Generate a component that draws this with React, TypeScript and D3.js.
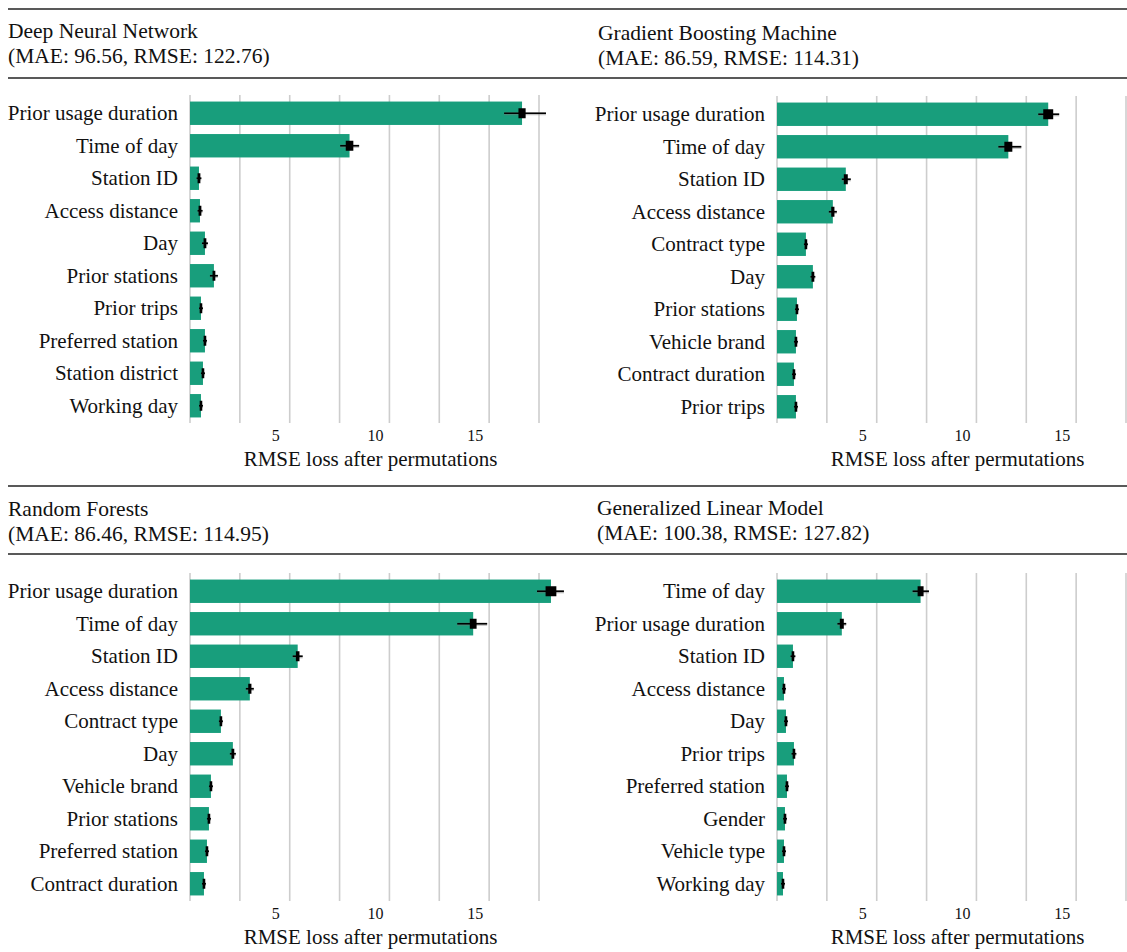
import React from "react";
import * as d3 from "d3";

// Permutation feature importance for four models (RMSE increase after permuting each feature)

const dnnFeatures = ["Prior usage duration", "Time of day", "Station ID", "Access distance", "Day", "Prior stations", "Prior trips", "Preferred station", "Station district", "Working day"];
const dnnValues = [16.65, 8.0, 0.45, 0.5, 0.75, 1.2, 0.55, 0.75, 0.65, 0.55];
const dnnErrLow = [0.9, 0.47, 0.12, 0.12, 0.15, 0.2, 0.1, 0.1, 0.1, 0.1];
const dnnErrHigh = [1.2, 0.48, 0.12, 0.13, 0.15, 0.2, 0.1, 0.1, 0.1, 0.1];
// half-width of the interquartile box
const dnnBox = [0.18, 0.19, 0.07, 0.07, 0.07, 0.07, 0.06, 0.06, 0.06, 0.06];

const gbmFeatures = ["Prior usage duration", "Time of day", "Station ID", "Access distance", "Contract type", "Day", "Prior stations", "Vehicle brand", "Contract duration", "Prior trips"];
const gbmValues = [13.6, 11.6, 3.45, 2.8, 1.45, 1.8, 1.0, 0.95, 0.85, 0.95];
const gbmErrLow = [0.5, 0.5, 0.2, 0.2, 0.1, 0.12, 0.1, 0.1, 0.1, 0.1];
const gbmErrHigh = [0.55, 0.65, 0.25, 0.2, 0.1, 0.12, 0.1, 0.1, 0.1, 0.1];
const gbmBox = [0.25, 0.2, 0.1, 0.08, 0.06, 0.07, 0.06, 0.06, 0.06, 0.06];

const rfFeatures = ["Prior usage duration", "Time of day", "Station ID", "Access distance", "Contract type", "Day", "Vehicle brand", "Prior stations", "Preferred station", "Contract duration"];
const rfValues = [18.1, 14.2, 5.4, 3.0, 1.55, 2.15, 1.05, 0.95, 0.85, 0.7];
const rfErrLow = [0.7, 0.8, 0.25, 0.2, 0.1, 0.15, 0.1, 0.1, 0.1, 0.1];
const rfErrHigh = [0.65, 0.7, 0.25, 0.2, 0.1, 0.15, 0.1, 0.1, 0.1, 0.1];
const rfBox = [0.27, 0.17, 0.09, 0.08, 0.06, 0.07, 0.06, 0.06, 0.06, 0.06];

const glmFeatures = ["Time of day", "Prior usage duration", "Station ID", "Access distance", "Day", "Prior trips", "Preferred station", "Gender", "Vehicle type", "Working day"];
const glmValues = [7.2, 3.25, 0.8, 0.35, 0.45, 0.85, 0.5, 0.4, 0.35, 0.3];
const glmErrLow = [0.4, 0.22, 0.12, 0.1, 0.1, 0.12, 0.1, 0.1, 0.1, 0.1];
const glmErrHigh = [0.42, 0.22, 0.12, 0.1, 0.1, 0.12, 0.1, 0.1, 0.1, 0.1];
const glmBox = [0.15, 0.1, 0.06, 0.06, 0.06, 0.06, 0.06, 0.06, 0.06, 0.06];

const tickValues = [5, 10, 15];
const gridValues = [0, 2.5, 5, 7.5, 10, 12.5, 15, 17.5];
const axisTitle = "RMSE loss after permutations";

const BAR = "#189e7c";
const GRID = "#cdcdcd";
const FONT = "Liberation Serif, DejaVu Serif, serif";

type PanelProps = {
  title: string;
  subtitle: string;
  titleX: number;
  titleY: number;
  features: string[];
  values: number[];
  errLow: number[];
  errHigh: number[];
  box: number[];
  x0: number;
  x1: number;
  top: number;
  bottom: number;
  gridTop: number;
  gridBottom: number;
  tickY: number;
  axisTitleY: number;
};

function Panel(p: PanelProps) {
  const x = d3.scaleLinear().domain([0, 17.5]).range([p.x0, p.x1]);
  const y = d3.scaleBand<string>().domain(p.features).range([p.top, p.bottom]).paddingInner(0.28).paddingOuter(0.14);
  const bw = y.bandwidth();
  return (
    <g>
      <text x={p.titleX} y={p.titleY} fontSize={21.5} fontFamily={FONT} fill="#111">
        {p.title}
      </text>
      <text x={p.titleX} y={p.titleY + 24.5} fontSize={21.5} fontFamily={FONT} fill="#111">
        {p.subtitle}
      </text>
      {gridValues.map((g) => (
        <line key={g} x1={x(g)} x2={x(g)} y1={p.gridTop} y2={p.gridBottom} stroke={GRID} strokeWidth={1.6} />
      ))}
      {p.features.map((f, i) => {
        const cy = (y(f) as number) + bw / 2;
        const v = p.values[i];
        const bx0 = x(v - p.box[i]);
        const bx1 = x(v + p.box[i]);
        const bwid = Math.max(2.6, bx1 - bx0);
        const xc = x(v);
        return (
          <g key={f}>
            <text x={p.x0 - 12} y={cy} dy="0.33em" textAnchor="end" fontSize={21} fontFamily={FONT} fill="#111">
              {f}
            </text>
            <rect x={x(0)} y={y(f)} width={x(v) - x(0)} height={bw} fill={BAR} />
            <line x1={x(v - p.errLow[i])} x2={x(v + p.errHigh[i])} y1={cy + 0.5} y2={cy + 0.5} stroke="#777" strokeOpacity={0.45} strokeWidth={3.2} />
            <line x1={x(v - p.errLow[i])} x2={x(v + p.errHigh[i])} y1={cy} y2={cy} stroke="#000" strokeWidth={1.6} />
            <rect x={xc - bwid / 2} y={cy - 5} width={bwid} height={10} fill="#000" />
          </g>
        );
      })}
      {tickValues.map((t) => (
        <text key={t} x={x(t) - 14} y={p.tickY} dy="0.35em" textAnchor="middle" fontSize={16} fontFamily={FONT} fill="#111">
          {t}
        </text>
      ))}
      <text x={(p.x0 + p.x1) / 2 + 6} y={p.axisTitleY} dy="0.35em" textAnchor="middle" fontSize={21} fontFamily={FONT} fill="#111">
        {axisTitle}
      </text>
    </g>
  );
}

export default function App() {
  const W = 1127;
  const H = 952;
  return (
    <svg width={W} height={H} style={{ position: "absolute", left: 0, top: 0, background: "#fff" }}>
      <rect width={W} height={H} fill="#fff" />
      {[9, 78, 486, 554].map((ly) => (
        <line key={ly} x1={8} x2={W} y1={ly} y2={ly} stroke="#222" strokeWidth={1.3} />
      ))}
      <Panel
        title="Deep Neural Network"
        subtitle="(MAE: 96.56, RMSE: 122.76)"
        titleX={8}
        titleY={38}
        features={dnnFeatures}
        values={dnnValues}
        errLow={dnnErrLow}
        errHigh={dnnErrHigh}
        box={dnnBox}
        x0={190}
        x1={539}
        top={97}
        bottom={422}
        gridTop={95}
        gridBottom={423}
        tickY={435}
        axisTitleY={459}
      />
      <Panel
        title="Gradient Boosting Machine"
        subtitle="(MAE: 86.59, RMSE: 114.31)"
        titleX={598}
        titleY={40}
        features={gbmFeatures}
        values={gbmValues}
        errLow={gbmErrLow}
        errHigh={gbmErrHigh}
        box={gbmBox}
        x0={777}
        x1={1126}
        top={98}
        bottom={423}
        gridTop={96}
        gridBottom={423}
        tickY={435}
        axisTitleY={459}
      />
      <Panel
        title="Random Forests"
        subtitle="(MAE: 86.46, RMSE: 114.95)"
        titleX={8}
        titleY={516}
        features={rfFeatures}
        values={rfValues}
        errLow={rfErrLow}
        errHigh={rfErrHigh}
        box={rfBox}
        x0={190}
        x1={539}
        top={575}
        bottom={900}
        gridTop={573}
        gridBottom={901}
        tickY={913}
        axisTitleY={937}
      />
      <Panel
        title="Generalized Linear Model"
        subtitle="(MAE: 100.38, RMSE: 127.82)"
        titleX={597}
        titleY={515}
        features={glmFeatures}
        values={glmValues}
        errLow={glmErrLow}
        errHigh={glmErrHigh}
        box={glmBox}
        x0={777}
        x1={1126}
        top={575}
        bottom={900}
        gridTop={573}
        gridBottom={901}
        tickY={913}
        axisTitleY={937}
      />
    </svg>
  );
}
